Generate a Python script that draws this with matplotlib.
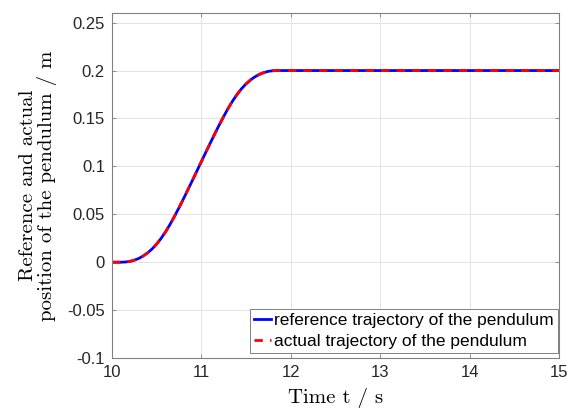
import matplotlib
matplotlib.use("Agg")
import matplotlib.pyplot as plt

t = [10.0, 10.1, 10.15, 10.2, 10.25, 10.3, 10.35, 10.4, 10.45, 10.5, 10.55, 10.6,
     10.65, 10.7, 10.75, 10.8, 10.85, 10.9, 10.95, 11.0, 11.05, 11.1, 11.15, 11.2,
     11.25, 11.3, 11.35, 11.4, 11.45, 11.5, 11.55, 11.6, 11.65, 11.7, 11.75, 11.8,
     11.85, 12.0, 13.0, 14.0, 15.0]
ref_pos = [0.0, 0.0, 0.0002, 0.0008, 0.0021, 0.0039, 0.0065, 0.0098, 0.0139, 0.0189,
           0.0249, 0.0317, 0.0394, 0.0479, 0.0568, 0.0661, 0.0757, 0.0853, 0.0951,
           0.1049, 0.1147, 0.1243, 0.1339, 0.1432, 0.1521, 0.1606, 0.1683, 0.1751,
           0.1811, 0.1861, 0.1902, 0.1935, 0.1961, 0.1979, 0.1992, 0.1998, 0.2,
           0.2, 0.2, 0.2, 0.2]
act_pos = [0.0, 0.0, 0.0002, 0.0008, 0.0021, 0.0039, 0.0065, 0.0098, 0.0139, 0.0189,
           0.0249, 0.0317, 0.0394, 0.0479, 0.0568, 0.0661, 0.0757, 0.0853, 0.0951,
           0.1049, 0.1147, 0.1243, 0.1339, 0.1432, 0.1521, 0.1606, 0.1683, 0.1751,
           0.1811, 0.1861, 0.1902, 0.1935, 0.1961, 0.1979, 0.1992, 0.1998, 0.2,
           0.2, 0.2, 0.2, 0.2]
xticks = [10, 11, 12, 13, 14, 15]
yticks = [-0.1, -0.05, 0, 0.05, 0.1, 0.15, 0.2, 0.25]
ytick_labels = ["-0.1", "-0.05", "0", "0.05", "0.1", "0.15", "0.2", "0.25"]

plt.rcParams['font.family'] = ['Liberation Sans', 'DejaVu Sans']
fig = plt.figure(figsize=(5.71, 4.08), dpi=100)
ax = fig.add_axes([0.196, 0.1225, 0.783, 0.8455])

ax.plot(t, ref_pos, color='#0000ff', lw=2.0, label='reference trajectory of the pendulum')
ax.plot(t, act_pos, color='#ff0000', lw=2.0, ls=(0, (3.0, 2.6)),
        label='actual trajectory of the pendulum')

ax.set_xlim(10, 15)
ax.set_ylim(-0.1, 0.26)
ax.set_xticks(xticks)
ax.set_yticks(yticks)
ax.set_yticklabels(ytick_labels)
ax.grid(True, color='#e3e3e3', lw=0.7)
ax.set_axisbelow(True)
for s in ax.spines.values():
    s.set_color('#808080')
    s.set_linewidth(0.8)
ax.tick_params(direction='in', length=3, width=0.6, color='#808080',
               labelsize=12, labelcolor='#262626', top=True, right=True, pad=5)

ax.set_xlabel('Time t / s', family='cmr10', fontsize=15, labelpad=6)
ax.set_ylabel('Reference and actual\nposition of the pendulum / m', family='cmr10',
              fontsize=15, labelpad=7, linespacing=1.0)

leg = ax.legend(loc='lower right', fontsize=12.5, handlelength=1.0, handletextpad=0.17,
                borderaxespad=0.05, borderpad=0.25, labelspacing=0.3, fancybox=False,
                framealpha=1, edgecolor='#808080', bbox_to_anchor=(1.0, 0.012))
leg.get_frame().set_linewidth(0.7)

fig.savefig('out.png', dpi=100)
